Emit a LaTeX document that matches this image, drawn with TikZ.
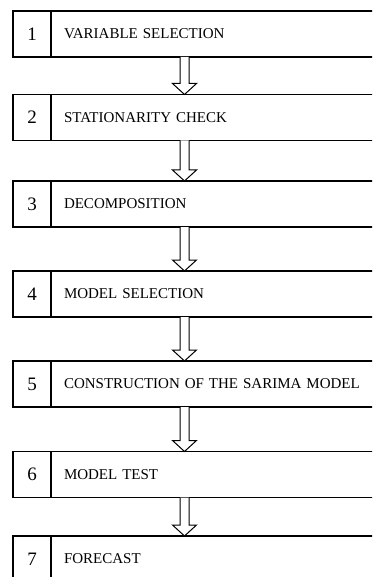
\documentclass[tikz,border=0pt]{standalone}
\usepackage{fontspec}
\setmainfont{Liberation Serif}
\usetikzlibrary{positioning, calc}

\tikzset{
  numbox/.style={draw, line width=1.2pt, outer sep=0pt, inner sep=0pt,
    minimum width=38pt, minimum height=46pt, font=\fontsize{19}{22}\selectfont},
  stagebox/.style={draw, line width=1.2pt, outer sep=0pt, inner xsep=13pt,
    minimum height=46pt, text width=312pt, align=left,
    font=\fontsize{15}{18}\selectfont},
  hollowarrow/.style={draw, line width=1pt, fill=white}
}

% hollow block arrow from one stage box down to the next
\newcommand{\stagearrow}[2]{%
  \draw[hollowarrow] let \p1=(axis |- #1.south), \p2=(axis |- #2.north) in
    (\x1-4.5pt,\y1) -- (\x1-4.5pt,\y2+11pt) -- (\x1-12pt,\y2+11pt) -- (\x2,\y2)
    -- (\x1+12pt,\y2+11pt) -- (\x1+4.5pt,\y2+11pt) -- (\x1+4.5pt,\y1);}

\begin{document}
\begin{tikzpicture}[x=1pt, y=-1pt]
  \useasboundingbox (0,0) rectangle (372,577);
  \clip (0,0) rectangle (372,577);
  \coordinate (axis) at (184.5,0);

  \node[numbox] (n1) at (32,34) {1};
  \node[stagebox, right=0pt of n1] (s1) {VARIABLE SELECTION};
  \node[numbox] (n2) at (32,117.5) {2};
  \node[stagebox, right=0pt of n2] (s2) {STATIONARITY CHECK};
  \node[numbox] (n3) at (32,204) {3};
  \node[stagebox, right=0pt of n3] (s3) {DECOMPOSITION};
  \node[numbox] (n4) at (32,294) {4};
  \node[stagebox, right=0pt of n4] (s4) {MODEL SELECTION};
  \node[numbox] (n5) at (32,384) {5};
  \node[stagebox, right=0pt of n5] (s5) {CONSTRUCTION OF THE SARIMA MODEL};
  \node[numbox] (n6) at (32,474.5) {6};
  \node[stagebox, right=0pt of n6] (s6) {MODEL TEST};
  \node[numbox] (n7) at (32,559) {7};
  \node[stagebox, right=0pt of n7] (s7) {FORECAST};

  \stagearrow{s1}{s2}
  \stagearrow{s2}{s3}
  \stagearrow{s3}{s4}
  \stagearrow{s4}{s5}
  \stagearrow{s5}{s6}
  \stagearrow{s6}{s7}
\end{tikzpicture}
\end{document}
